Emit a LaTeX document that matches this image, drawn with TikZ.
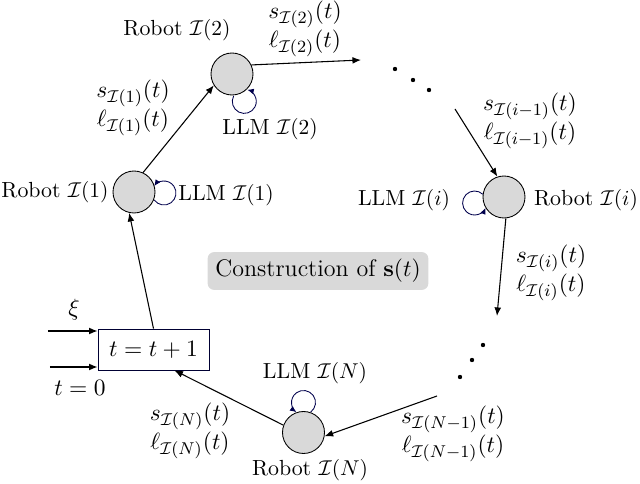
\documentclass[tikz,border=0pt]{standalone}
\usepackage{amsmath}
\usetikzlibrary{arrows.meta}
\tikzset{
  robot/.style={circle,draw,fill=gray!30,minimum size=19.6pt,inner sep=0pt},
  big/.style={font=\fontsize{11.2}{13.4}\selectfont},
  tag/.style={font=\fontsize{10.2}{12}\selectfont},
  msg/.style={big,align=center,inner sep=1pt},
  flow/.style={line width=0.5pt,-{Latex[length=4pt,width=3.2pt]}},
  llmloop/.style={draw=blue!30!black,thin,-{Latex[length=3pt,width=2.6pt]}},
}
\begin{document}
\begin{tikzpicture}[x=0.4667pt,y=-0.4667pt]
  \useasboundingbox (0,0) rectangle (640,484);
  % robots
  \node[robot] (r1) at (134,192) {};
  \node[robot] (r2) at (232,74) {};
  \node[robot] (ri) at (504,197) {};
  \node[robot] (rN) at (303.5,432.5) {};
  \node[big,draw=blue!20!black,minimum width=51.8pt,minimum height=19.1pt] (box) at (153.5,349.5) {$t=t+1$};
  \node[big,fill=gray!30,rounded corners=3pt,minimum width=103pt,minimum height=17.5pt] (title) at (318,271) {Construction of $\mathbf{s}(t)$};
  % free ends
  \coordinate (xi) at (48,331);
  \coordinate (tz) at (50,367);
  \coordinate (c2) at (361,60);
  \coordinate (c3) at (455,109);
  \coordinate (c4) at (497,316);
  \coordinate (c5) at (437,396);
  % names
  \node[tag] (n1) at (55,192) {Robot $\mathcal{I}(1)$};
  \node[tag] (n2) at (177,30) {Robot $\mathcal{I}(2)$};
  \node[tag] (ni) at (586,200) {Robot $\mathcal{I}(i)$};
  \node[tag] (nN) at (310,470) {Robot $\mathcal{I}(N)$};
  \node[tag] (m1) at (226,195) {LLM $\mathcal{I}(1)$};
  \node[tag] (m2) at (270,129) {LLM $\mathcal{I}(2)$};
  \node[tag] (mi) at (404,200) {LLM $\mathcal{I}(i)$};
  \node[tag] (mN) at (315,373) {LLM $\mathcal{I}(N)$};
  % messages
  \node[msg] (s1) at (133,108) {$s_{\mathcal{I}(1)}(t)$\\$\ell_{\mathcal{I}(1)}(t)$};
  \node[msg] (s2) at (305,29) {$s_{\mathcal{I}(2)}(t)$\\$\ell_{\mathcal{I}(2)}(t)$};
  \node[msg] (sim) at (530,121) {$s_{\mathcal{I}(i-1)}(t)$\\$\ell_{\mathcal{I}(i-1)}(t)$};
  \node[msg] (si) at (551,273) {$s_{\mathcal{I}(i)}(t)$\\$\ell_{\mathcal{I}(i)}(t)$};
  \node[msg] (sNm) at (453,434) {$s_{\mathcal{I}(N-1)}(t)$\\$\ell_{\mathcal{I}(N-1)}(t)$};
  \node[msg] (sN) at (190,431) {$s_{\mathcal{I}(N)}(t)$\\$\ell_{\mathcal{I}(N)}(t)$};
  \node[big] (lxi) at (74,310) {$\xi$};
  \node[big] (ltz) at (80,388) {$t=0$};
  % arrows
  \draw[flow] (xi) -- (xi -| box.west);
  \draw[flow] (tz) -- (tz -| box.west);
  \draw[flow] (box.north) -- (r1.-103);
  \draw[flow] (r1.65) -- (r2.-148);
  \draw[flow] (r2.25) -- (c2);
  \draw[flow] (c3) -- (ri.108);
  \draw[flow] (ri.-85) -- (c4);
  \draw[flow] (c5) -- (rN.-10);
  \draw[flow] (rN.160) -- (box.-45);
  % self loops (centre, start, end)
  \coordinate (l1) at (164,193);
  \coordinate (l2) at (244.3,101.4);
  \coordinate (li) at (474.6,203);
  \coordinate (lN) at (303.5,402.5);
  \draw[llmloop] ([shift={(145:12)}]l1) arc[start angle=145,end angle=-145,radius=12];
  \draw[llmloop] ([shift={(207:12)}]l2) arc[start angle=207,end angle=-75.4,radius=12];
  \draw[llmloop] ([shift={(313.5:12)}]li) arc[start angle=313.5,end angle=23.5,radius=12];
  \draw[llmloop] ([shift={(53.8:12)}]lN) arc[start angle=53.8,end angle=-233.8,radius=12];
  % dots
  \foreach \p in {(395,69),(413,80),(429,90),(460,377),(472,360),(483,345)}
    \fill \p circle (2.2);
\end{tikzpicture}
\end{document}
